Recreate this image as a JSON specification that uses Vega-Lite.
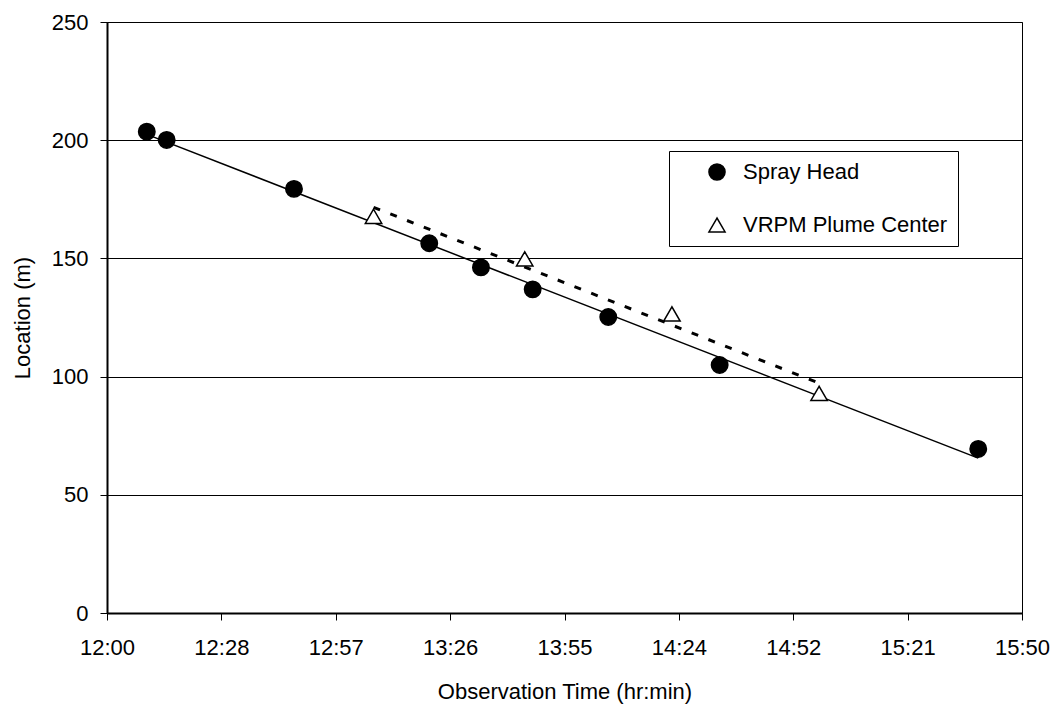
{
  "$schema": "https://vega.github.io/schema/vega-lite/v6.json",
  "width": 915,
  "height": 591,
  "autosize": "none",
  "padding": {"left": 107, "top": 22, "right": 34, "bottom": 94},
  "background": "white",
  "config": {
    "font": "Liberation Sans",
    "view": {"stroke": "black", "strokeWidth": 1},
    "axis": {
      "labelFont": "Liberation Sans",
      "titleFont": "Liberation Sans",
      "labelFontSize": 22,
      "titleFontSize": 22,
      "titleFontWeight": "normal",
      "labelColor": "black",
      "titleColor": "black",
      "tickColor": "black",
      "tickSize": 7,
      "tickWidth": 1,
      "domainColor": "black",
      "domainWidth": 2,
      "labelFlush": false
    },
    "legend": {
      "labelFont": "Liberation Sans",
      "title": null,
      "orient": "none",
      "legendX": 562,
      "legendY": 129,
      "padding": 10,
      "rowPadding": 30,
      "symbolOffset": 27,
      "labelOffset": 15,
      "labelLimit": 400,
      "symbolSize": 260,
      "symbolStrokeWidth": 1.5,
      "labelFontSize": 22,
      "labelColor": "black",
      "fillColor": "white",
      "strokeColor": "black",
      "labelExpr": "datum.label + '\u2002\u2002'"
    }
  },
  "data": {
    "values": [
      {"series": "Spray Head", "minutes": 10, "location": 203.6},
      {"series": "Spray Head", "minutes": 15, "location": 200.1},
      {"series": "Spray Head", "minutes": 47, "location": 179.4},
      {"series": "Spray Head", "minutes": 81, "location": 156.4},
      {"series": "Spray Head", "minutes": 94, "location": 146.2},
      {"series": "Spray Head", "minutes": 107, "location": 136.9},
      {"series": "Spray Head", "minutes": 126, "location": 125.2},
      {"series": "Spray Head", "minutes": 154, "location": 104.9},
      {"series": "Spray Head", "minutes": 219, "location": 69.4},
      {"series": "VRPM Plume Center", "minutes": 67, "location": 167.8},
      {"series": "VRPM Plume Center", "minutes": 105, "location": 149.8},
      {"series": "VRPM Plume Center", "minutes": 142, "location": 126.5},
      {"series": "VRPM Plume Center", "minutes": 179, "location": 92.9}
    ]
  },
  "encoding": {
    "x": {
      "field": "minutes",
      "type": "quantitative",
      "scale": {"domain": [0, 230], "nice": false, "zero": false},
      "axis": {
        "values": [0, 28.75, 57.5, 86.25, 115, 143.75, 172.5, 201.25, 230],
        "labelExpr": "['12:00','12:28','12:57','13:26','13:55','14:24','14:52','15:21','15:50'][round(datum.value / 28.75)]",
        "grid": false,
        "labelPadding": 17,
        "title": "Observation Time (hr:min)",
        "titleBaseline": "alphabetic",
        "titleY": 85
      }
    },
    "y": {
      "field": "location",
      "type": "quantitative",
      "scale": {"domain": [0, 250], "nice": false},
      "axis": {
        "values": [0, 50, 100, 150, 200, 250],
        "grid": true,
        "gridColor": "black",
        "gridWidth": 1,
        "labelPadding": 12,
        "title": "Location (m)",
        "titleBaseline": "alphabetic",
        "titleX": -78
      }
    }
  },
  "layer": [
    {
      "transform": [
        {"filter": "datum.series === 'Spray Head'"},
        {"regression": "location", "on": "minutes"}
      ],
      "mark": {"type": "line", "color": "black", "strokeWidth": 1.5}
    },
    {
      "transform": [
        {"filter": "datum.series === 'VRPM Plume Center'"},
        {"regression": "location", "on": "minutes"}
      ],
      "mark": {"type": "line", "color": "black", "strokeWidth": 3, "strokeDash": [7, 11], "strokeCap": "butt"}
    },
    {
      "mark": {"type": "point", "filled": true, "strokeWidth": 1.5, "size": 270, "opacity": 1},
      "encoding": {
        "shape": {
          "field": "series",
          "type": "nominal",
          "scale": {"domain": ["Spray Head", "VRPM Plume Center"], "range": ["circle", "triangle-up"]}
        },
        "fill": {
          "field": "series",
          "type": "nominal",
          "scale": {"domain": ["Spray Head", "VRPM Plume Center"], "range": ["black", "white"]}
        },
        "stroke": {
          "field": "series",
          "type": "nominal",
          "scale": {"domain": ["Spray Head", "VRPM Plume Center"], "range": ["black", "black"]}
        }
      }
    }
  ]
}
